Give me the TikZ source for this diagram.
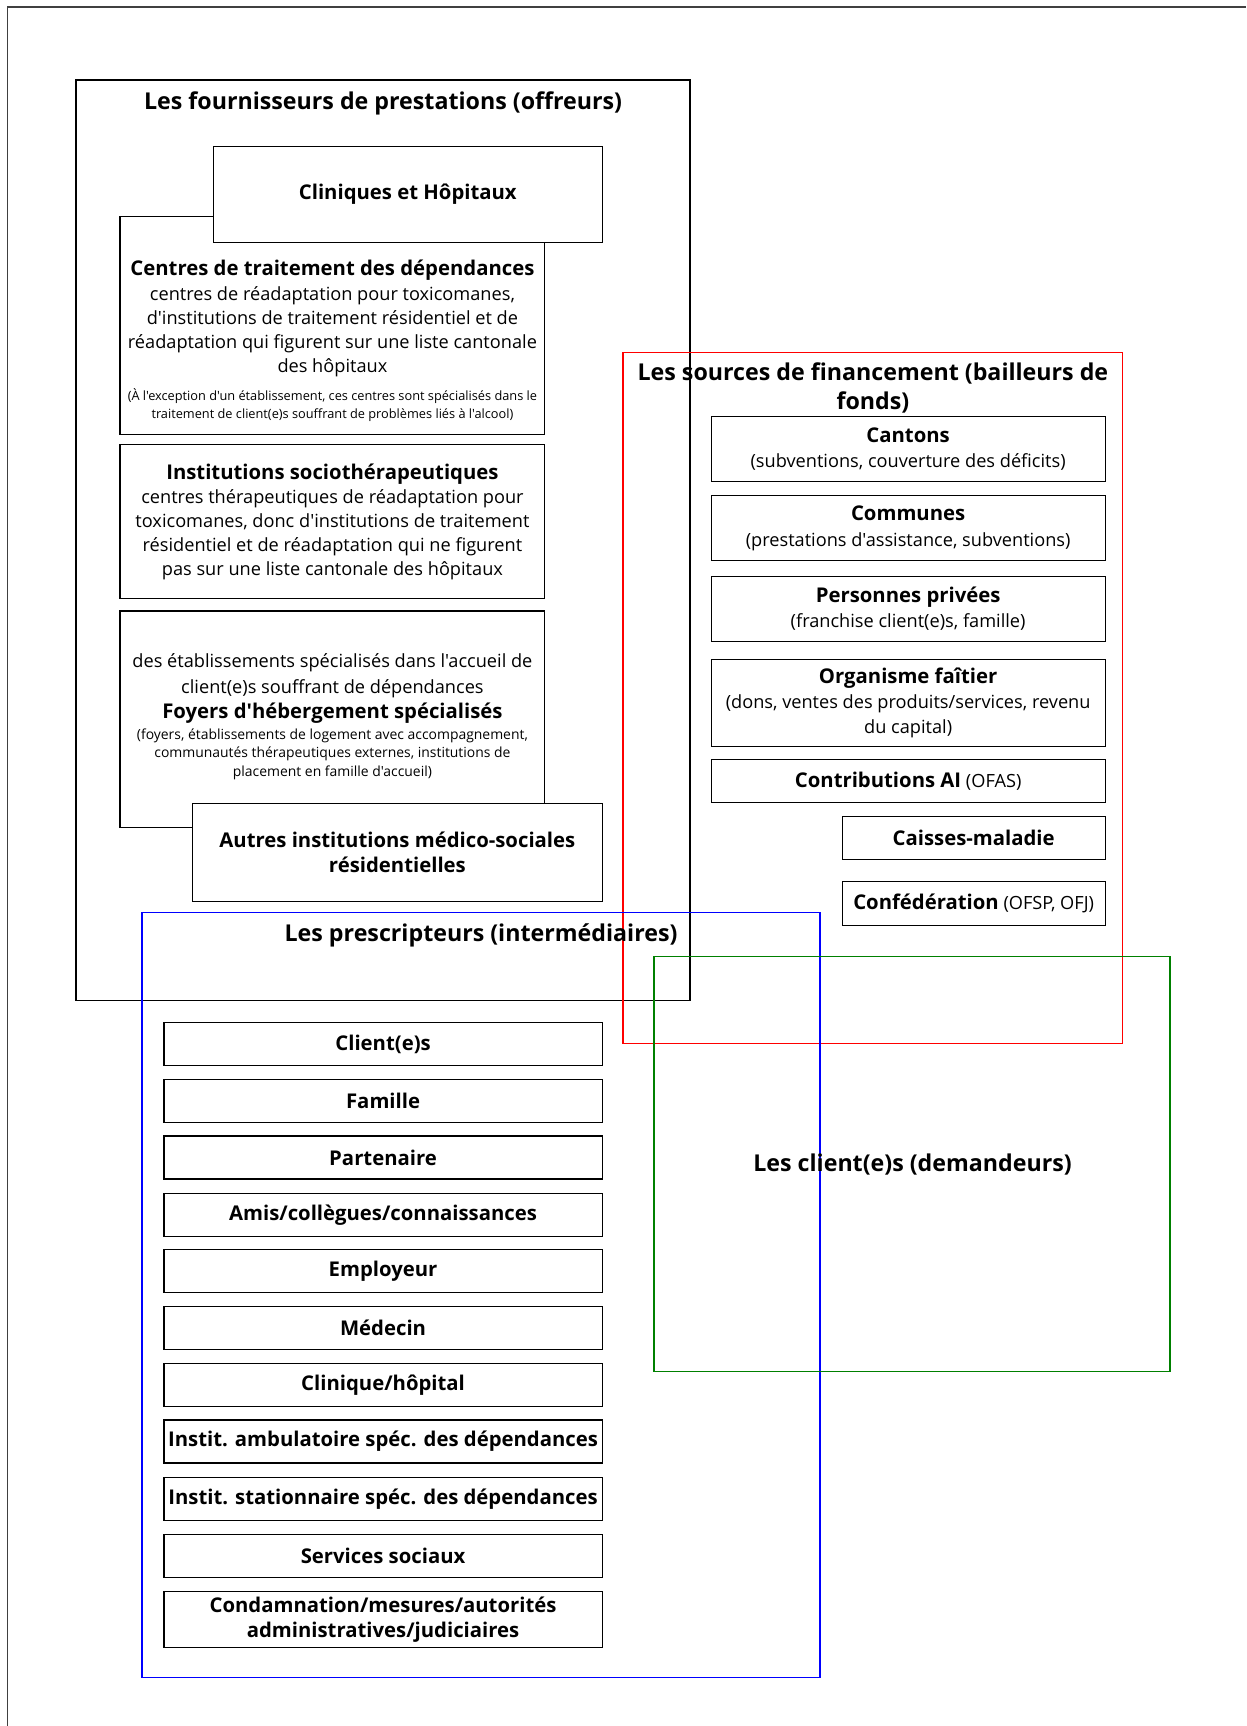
\documentclass[tikz,border=0pt]{standalone}
\usepackage{fontspec}
\setmainfont{Open Sans}[Ligatures=TeXOff]
\newcommand{\bhead}[1]{{\fontsize{10.5}{13}\selectfont\bfseries #1}}

\begin{document}
\begin{tikzpicture}[x=0.02cm,y=-0.02cm,
        frame/.style={line width=0.7pt},
        head/.style={align=center, font=\fontsize{12}{15.3}\selectfont\bfseries},
        txt/.style={align=center, font=\fontsize{9.4}{12.5}\selectfont},
        note/.style={align=center, font=\fontsize{6.6}{9.6}\selectfont},
        box/.style={draw, fill=white, line width=0.6pt, inner sep=0pt, align=center, font=\fontsize{9.4}{13}\selectfont},
        cell/.style={box, font=\fontsize{10.5}{13}\selectfont\bfseries}]
    \useasboundingbox (0,0) rectangle (1132,1568);
    \draw[line width=0.8pt, black!75] (7,1568) -- (7,6.5) -- (1132,6.5);

    % offreurs
    \draw[frame, line width=0.9pt] (69,73) rectangle (627,909);
    \node[head] (offreurs) at (348,93.5) {Les fournisseurs de prestations (offreurs)};

    \draw[line width=0.6pt] (109,197) rectangle (495,395);
    \node[txt] (centres) at (302,289.5) {\bhead{Centres de traitement des dépendances}\\centres de réadaptation pour toxicomanes,\\d'institutions de traitement résidentiel et de\\réadaptation qui figurent sur une liste cantonale\\des hôpitaux};
    \node[note] (centresnote) at (302,368) {(À l'exception d'un établissement, ces centres sont spécialisés dans le\\traitement de client(e)s souffrant de problèmes liés à l'alcool)};
    \node[cell, minimum width=7.06cm, minimum height=1.74cm] (cliniques) at (370.5,176.5) {Cliniques et Hôpitaux};

    \node[box, minimum width=7.72cm, minimum height=2.8cm, font=\fontsize{9.4}{12.5}\selectfont] (socio) at (302,474) {\bhead{Institutions sociothérapeutiques}\\centres thérapeutiques de réadaptation pour\\toxicomanes, donc d'institutions de traitement\\résidentiel et de réadaptation qui ne figurent\\pas sur une liste cantonale des hôpitaux};

    \draw[line width=0.6pt] (109,555) rectangle (495,752);
    \node[txt, font=\fontsize{9.4}{13}\selectfont] (foyers) at (302,625.5) {des établissements spécialisés dans l'accueil de\\client(e)s souffrant de dépendances\\\bhead{Foyers d'hébergement spécialisés}};
    \node[note, font=\fontsize{7.2}{9.6}\selectfont] (foyersnote) at (302,685) {(foyers, établissements de logement avec accompagnement,\\communautés thérapeutiques externes, institutions de\\placement en famille d'accueil)};
    \node[cell, minimum width=7.44cm, minimum height=1.78cm] (autres) at (361,774.5) {Autres institutions médico-sociales\\résidentielles};

    % bailleurs de fonds
    \draw[frame, red] (566,320) rectangle (1020,948);
    \node[head] (financement) at (793,352.5) {Les sources de financement (bailleurs de\\fonds)};
    \node[box, minimum width=7.16cm, minimum height=1.18cm] (cantons) at (825,408) {\bhead{Cantons}\\(subventions, couverture des déficits)};
    \node[box, minimum width=7.16cm, minimum height=1.18cm] (communes) at (825,480) {\bhead{Communes}\\(prestations d'assistance, subventions)};
    \node[box, minimum width=7.16cm, minimum height=1.18cm] (privees) at (825,553) {\bhead{Personnes privées}\\(franchise client(e)s, famille)};
    \node[box, minimum width=7.16cm, minimum height=1.58cm] (faitier) at (825,638.5) {\bhead{Organisme faîtier}\\(dons, ventes des produits/services, revenu\\du capital)};
    \node[box, minimum width=7.16cm, minimum height=0.78cm] (ai) at (825,709.5) {\bhead{Contributions AI} (OFAS)};
    \node[cell, minimum width=4.78cm, minimum height=0.78cm] (caisses) at (884.5,761.5) {Caisses-maladie};
    \node[box, minimum width=4.78cm, minimum height=0.8cm] (confederation) at (884.5,821) {\bhead{Confédération} (OFSP, OFJ)};

    % intermediaires
    \draw[frame, blue] (129,829) rectangle (745,1524);
    \node[head] (prescripteurs) at (437,849.5) {Les prescripteurs (intermédiaires)};
    \node[cell, minimum width=7.96cm, minimum height=0.78cm] (clients) at (348,948.5) {Client(e)s};
    \node[cell, minimum width=7.96cm, minimum height=0.78cm] (famille) at (348,1000.5) {Famille};
    \node[cell, minimum width=7.96cm, minimum height=0.78cm] (partenaire) at (348,1051.5) {Partenaire};
    \node[cell, minimum width=7.96cm, minimum height=0.78cm] (amis) at (348,1103.5) {Amis/collègues/connaissances};
    \node[cell, minimum width=7.96cm, minimum height=0.78cm] (employeur) at (348,1154.5) {Employeur};
    \node[cell, minimum width=7.96cm, minimum height=0.78cm] (medecin) at (348,1206.5) {Médecin};
    \node[cell, minimum width=7.96cm, minimum height=0.78cm] (clinique) at (348,1258.5) {Clinique/hôpital};
    \node[cell, minimum width=7.96cm, minimum height=0.78cm] (ambulatoire) at (348,1309.5) {Instit. ambulatoire spéc. des dépendances};
    \node[cell, minimum width=7.96cm, minimum height=0.78cm] (stationnaire) at (348,1361.5) {Instit. stationnaire spéc. des dépendances};
    \node[cell, minimum width=7.96cm, minimum height=0.78cm] (sociaux) at (348,1413.5) {Services sociaux};
    \node[cell, minimum width=7.96cm, minimum height=1.02cm] (autorites) at (348,1471.5) {Condamnation/mesures/autorités\\administratives/judiciaires};

    % demandeurs
    \draw[frame, green!50!black] (594,869) rectangle (1063,1246);
    \node[head] (demandeurs) at (829,1058) {Les client(e)s (demandeurs)};
\end{tikzpicture}
\end{document}
